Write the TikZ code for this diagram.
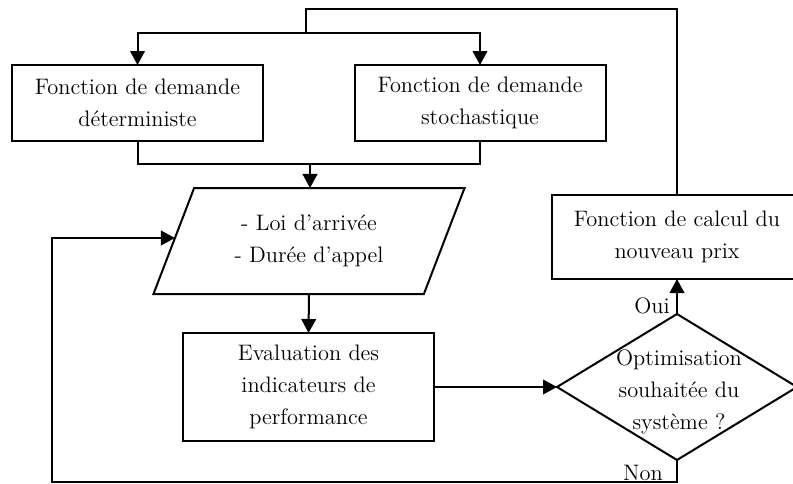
\documentclass[tikz,border=0pt]{standalone}
\usetikzlibrary{shapes.geometric,arrows.meta,calc}
\begin{document}
\begin{tikzpicture}[x=0.5pt,y=-0.5pt,
  every node/.style={font=\fontsize{11.2pt}{15.9pt}\selectfont, align=center, inner sep=0pt, outer sep=0pt},
  box/.style={draw, line width=1pt, minimum width=125.5pt, minimum height=38pt},
  line/.style={line width=1pt},
  arr/.style={line width=1pt, -{Triangle[length=7pt,width=7.3pt]}},
]
\useasboundingbox (0,0) rectangle (793,483);
\node[box] (det) at (137.5,103) {Fonction de demande\\déterministe};
\node[box] (sto) at (480,103) {Fonction de demande\\stochastique};
\node[draw, line width=1pt, trapezium, trapezium left angle=63, trapezium right angle=117,
      trapezium stretches=true, minimum width=156pt, minimum height=53pt] (para) at (309,241)
      {- Loi d'arrivée\\- Durée d'appel};
\node[box, minimum height=54pt] (eval) at (308.5,387) {Evaluation des\\indicateurs de\\performance};
\node[draw, line width=1pt, diamond, minimum width=120pt, minimum height=73pt] (dia) at (677,387) {};
\node (diat) at (679,392) {Optimisation\\souhaitée du\\système ?};
\node[box, minimum height=42pt] (prix) at (677,237) {Fonction de calcul du\\nouveau prix};
\node (oui) at (652,306) {Oui};
\node (non) at (643,473) {Non};
\coordinate (top) at (306,9);
\coordinate (split) at (306,33);
\coordinate (merge) at (310,164);
\coordinate (nb) at (677,482);
\coordinate (nl) at (52,482);
\coordinate (nu) at (52,238);
\coordinate (pe) at ($(para.bottom left corner)!0.528!(para.top left corner)$);
\draw[line] (prix.north) |- (top) -- (split);
\draw[arr] (split) -| (det.north);
\draw[arr] (split) -| (sto.north);
\draw[line] (det.south) |- (merge);
\draw[line] (sto.south) |- (merge);
\draw[arr] (merge) -- (merge |- para.north);
\draw[arr] (para.south) -- (eval.north);
\draw[arr] (eval.east) -- (dia.west);
\draw[arr] (dia.north) -- (prix.south);
\draw[arr] (dia.south) -- (nb) -- (nl) -- (nu) -- (nu -| pe);
\end{tikzpicture}
\end{document}
